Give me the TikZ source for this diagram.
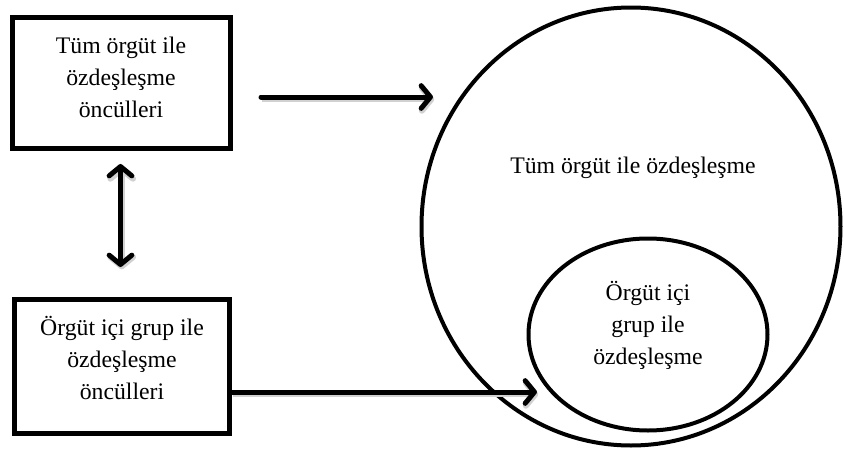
\documentclass[tikz,border=0pt]{standalone}
\usepackage{fontspec}
\setmainfont{Liberation Serif}
\usetikzlibrary{arrows.meta,shapes.geometric}
\begin{document}
\begin{tikzpicture}[x=0.75pt,y=-0.75pt,
  boxnode/.style={draw, line width=3.75pt, inner sep=0pt},
  ringnode/.style={draw, ellipse, line width=3pt, inner sep=0pt},
  txt/.style={font=\fontsize{17.8pt}{24pt}\selectfont, align=center, inner sep=0pt},
  barb/.tip={Straight Barb[length=7pt, width=17pt, line cap=round, line join=round]},
  softshadow/.style={preaction={draw=black!18, line width=4.5pt,
      transform canvas={shift={(0.9pt,-1.8pt)}}}},
  arr/.style={line width=3.75pt, line cap=round, softshadow}]
\useasboundingbox (0,0) rectangle (844,450);

% left boxes
\node[boxnode, minimum width=163.5pt, minimum height=98.25pt] (topbox) at (121.5,83) {};
\node[txt] (toptxt) at (121,77) {Tüm örgüt ile\\özdeşleşme\\öncülleri};
\node[boxnode, minimum width=161.25pt, minimum height=100.5pt] (botbox) at (122,366.5) {};
\node[txt] (bottxt) at (122,358) {Örgüt içi grup ile\\özdeşleşme\\öncülleri};

% nested ellipses
\node[ringnode, minimum width=314.25pt, minimum height=328.5pt] (outer) at (631,226.5) {};
\node[txt] (outertxt) at (633,168) {Tüm örgüt ile özdeşleşme};
\node[ringnode, minimum width=179.25pt, minimum height=144pt] (inner) at (648,334.5) {};
\node[txt] (innertxt) at (648,325) {Örgüt içi\\grup ile\\özdeşleşme};

% connector end points
\coordinate (a1s) at (261,97);
\coordinate (a1e) at (433,97);
\coordinate (a2e) at (537,392);
\coordinate (dtop) at (120.5,164);
\coordinate (dbot) at (120.5,267);

% arrows
\draw[arr, -{barb}] (a1s) -- (a1e);
\draw[arr, -{barb}] (botbox.east |- a2e) -- (a2e);
\draw[arr, {barb}-{barb}] (dtop) -- (dbot);
\end{tikzpicture}
\end{document}
